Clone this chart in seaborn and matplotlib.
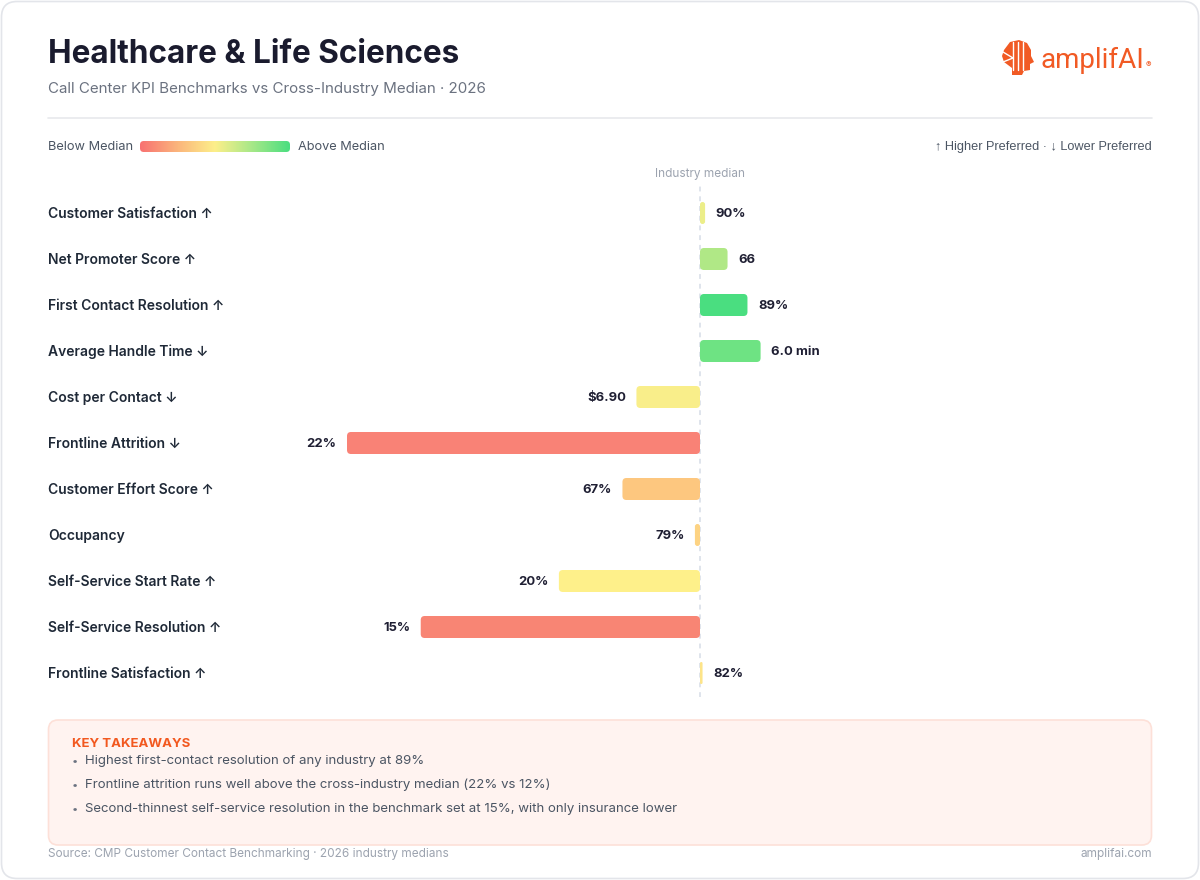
import numpy as np
import pandas as pd
import matplotlib
matplotlib.use("Agg")
import matplotlib.pyplot as plt
import matplotlib.transforms as mtransforms
from matplotlib.patches import FancyBboxPatch, Polygon
from matplotlib.colors import LinearSegmentedColormap
import seaborn as sns

# ---------------- data ----------------
metrics = [
    "Customer Satisfaction ↑",
    "Net Promoter Score ↑",
    "First Contact Resolution ↑",
    "Average Handle Time ↓",
    "Cost per Contact ↓",
    "Frontline Attrition ↓",
    "Customer Effort Score ↑",
    "Occupancy",
    "Self-Service Start Rate ↑",
    "Self-Service Resolution ↑",
    "Frontline Satisfaction ↑",
]
# performance vs cross-industry median (%; positive = better than median)
deviation = [1.2, 6.5, 11.2, 14.3, -15.0, -83.3, -18.3, -1.2, -33.3, -65.9, 0.6]
value_labels = ["90%", "66", "89%", "6.0 min", "$6.90", "22%", "67%", "79%", "20%", "15%", "82%"]
bar_colors = ["#ecee89", "#b0e886", "#4ade80", "#6ee383", "#f9ee8a", "#f98276",
              "#fdc77f", "#fdd383", "#fef08a", "#f88574", "#fde489"]
takeaways = [
    "Highest first-contact resolution of any industry at 89%",
    "Frontline attrition runs well above the cross-industry median (22% vs 12%)",
    "Second-thinnest self-service resolution in the benchmark set at 15%, with only insurance lower",
]
gradient_colors = ["#f87171", "#fbb57c", "#fdef8a", "#a6e888", "#4ade80"]

# ---------------- style ----------------
sns.set_style("white")
FONTS = ["Inter", "DejaVu Sans"]
plt.rcParams["font.family"] = FONTS

W, H = 1200, 880
fig = plt.figure(figsize=(W / 100, H / 100), dpi=100)
fig.patch.set_facecolor("white")

def fx(x):
    return x / W

def fy(y):
    return 1 - y / H

# card
card = FancyBboxPatch((fx(1.5), fy(878.5)), fx(1197), 877 / H,
                      boxstyle="round,pad=0,rounding_size=0.013",
                      mutation_aspect=W / H,
                      transform=fig.transFigure, facecolor="white",
                      edgecolor="#e3e5ea", linewidth=1.2, zorder=-10)
fig.patches.append(card)

# title
fig.text(fx(48), fy(63), "Healthcare & Life Sciences", fontsize=22.7, fontweight="bold",
         color="#1a1b2e", va="baseline", ha="left")
fig.text(fx(48), fy(93), "Call Center KPI Benchmarks vs Cross-Industry Median · 2026",
         fontsize=10.9, color="#6b7280", va="baseline", ha="left")
fig.add_artist(plt.Line2D([fx(48), fx(1152)], [fy(118), fy(118)], transform=fig.transFigure,
                          color="#e8e9ec", linewidth=1.2))

# logo
ic = [(1004, 50), (1010, 42), (1019, 40), (1027, 43), (1031, 50), (1031, 56), (1034, 62),
      (1030, 64), (1030, 70), (1024, 71), (1022, 75), (1012, 75), (1012, 68), (1004, 62), (1002, 56)]
fig.patches.append(Polygon([(fx(a), fy(b)) for a, b in ic], closed=True,
                           transform=fig.transFigure, facecolor="#f15a24", edgecolor="none"))
for xx in (1013, 1018, 1023):
    fig.add_artist(plt.Line2D([fx(xx), fx(xx)], [fy(42), fy(70)], transform=fig.transFigure,
                              color="white", linewidth=1.0))
fig.add_artist(plt.Line2D([fx(1003), fx(1013)], [fy(52), fy(58)], transform=fig.transFigure,
                          color="white", linewidth=1.0))
fig.add_artist(plt.Line2D([fx(1003), fx(1013)], [fy(62), fy(58)], transform=fig.transFigure,
                          color="white", linewidth=1.0))
fig.text(fx(1041), fy(68), "amplifAI", fontsize=20, color="#f15a24", va="baseline", ha="left",
         family=["Roboto", "DejaVu Sans"])
fig.text(fx(1146), fy(67), "®", fontsize=6, color="#f15a24", va="baseline", ha="left")

# legend
fig.text(fx(48), fy(147), "Below Median", fontsize=9.2, color="#4b5563", va="center", ha="left")
fig.text(fx(298), fy(147), "Above Median", fontsize=9.2, color="#4b5563", va="center", ha="left")
fig.text(fx(1152), fy(147), "↑ Higher Preferred · ↓ Lower Preferred", fontsize=9.2,
         color="#4b5563", va="center", ha="right", family=["Liberation Sans", "DejaVu Sans"])
gax = fig.add_axes([fx(140), fy(152), fx(150), 11 / H])
cmap = LinearSegmentedColormap.from_list("med", gradient_colors)
im = gax.imshow(np.linspace(0, 1, 256)[None, :], aspect="auto", cmap=cmap, extent=(0, 1, 0, 1))
clip = FancyBboxPatch((0, 0), 1, 1, boxstyle="round,pad=0,rounding_size=0.025",
                      mutation_aspect=150 / 11, transform=gax.transAxes,
                      facecolor="none", edgecolor="none")
gax.add_patch(clip)
im.set_clip_path(clip)
gax.axis("off")

# ---------------- chart ----------------
left_px, right_px, zero_px = 48, 1152, 700
pxx = 353 / 83.3  # pixels per % deviation
row_h = 46
top_px = 190
n = len(metrics)
ax = fig.add_axes([fx(left_px), fy(top_px + n * row_h), fx(right_px - left_px), n * row_h / H])
ax.set_facecolor("none")

df = pd.DataFrame({"metric": metrics, "deviation": deviation, "label": value_labels})
sns.barplot(data=df, x="deviation", y="metric", hue="metric", order=metrics, hue_order=metrics,
            palette=dict(zip(metrics, bar_colors)), legend=False, orient="h",
            width=22 / row_h, saturation=1, ax=ax, edgecolor="none", linewidth=0)

ax.set_xlim((left_px - zero_px) / pxx, (right_px - zero_px) / pxx)
ax.set_ylim(n - 0.5, -0.5)
ax.set_xlabel("")
ax.set_ylabel("")
ax.set_xticks([])
ax.set_yticks([])
for s in ax.spines.values():
    s.set_visible(False)

# round the bars
aspect = pxx / row_h
for p in list(ax.patches):
    bb = p.get_bbox()
    x0, x1 = sorted([bb.x0, bb.x1])
    y0, y1 = sorted([bb.y0, bb.y1])
    wpx = (x1 - x0) * pxx
    r_px = min(4.0, wpx / 2)
    rr = FancyBboxPatch((x0, y0), x1 - x0, y1 - y0,
                        boxstyle=f"round,pad=0,rounding_size={r_px / pxx}",
                        mutation_aspect=aspect, facecolor=p.get_facecolor(),
                        edgecolor="none", zorder=3)
    p.remove()
    ax.add_patch(rr)

# median line
ax.axvline(0, ymin=-0.002, ymax=1.01, color="#dfe4ec", linewidth=1.4,
           linestyle=(0, (2.5, 2.5)), zorder=1, clip_on=False)
fig.text(fx(zero_px), fy(174), "Industry median", fontsize=8.5, color="#9ca3af",
         ha="center", va="center")

# labels
blend = mtransforms.blended_transform_factory(ax.transAxes, ax.transData)
for i, (m, d, lab) in enumerate(zip(metrics, deviation, value_labels)):
    ax.annotate(m, (0, i), xycoords=blend, xytext=(0, -0.7), textcoords="offset points",
                ha="left", va="center", fontsize=10, fontweight="semibold",
                color="#1f2937", family=FONTS)
    if d >= 0:
        ax.annotate(lab, (d, i), xytext=(7.5, -0.7), textcoords="offset points",
                    ha="left", va="center", fontsize=9.4, fontweight="bold", color="#1f1f33")
    else:
        ax.annotate(lab, (d, i), xytext=(-7.5, -0.7), textcoords="offset points",
                    ha="right", va="center", fontsize=9.4, fontweight="bold", color="#1f1f33")

# ---------------- takeaways ----------------
box = FancyBboxPatch((fx(48.5), fy(845)), fx(1103), 125 / H,
                     boxstyle="round,pad=0,rounding_size=0.008", mutation_aspect=W / H,
                     transform=fig.transFigure, facecolor="#fff3f0", edgecolor="#fde0d8",
                     linewidth=1.2, zorder=-5)
fig.patches.append(box)
fig.text(fx(72), fy(744), "KEY TAKEAWAYS", fontsize=9.5, fontweight="bold", color="#f2581f",
         ha="left", va="center")
for k, t in enumerate(takeaways):
    yy = 761 + 24 * k
    fig.text(fx(72), fy(yy), "•", fontsize=8, color="#6b7280", ha="left", va="center")
    fig.text(fx(85), fy(yy), t, fontsize=9.5, color="#4b5563", ha="left", va="center")

# footer
fig.text(fx(48), fy(854), "Source: CMP Customer Contact Benchmarking · 2026 industry medians",
         fontsize=8.5, color="#9ca3af", ha="left", va="center")
fig.text(fx(1152), fy(854), "amplifai.com", fontsize=8.5, color="#9ca3af", ha="right", va="center")

fig.savefig("out.png", dpi=100, facecolor="white")
